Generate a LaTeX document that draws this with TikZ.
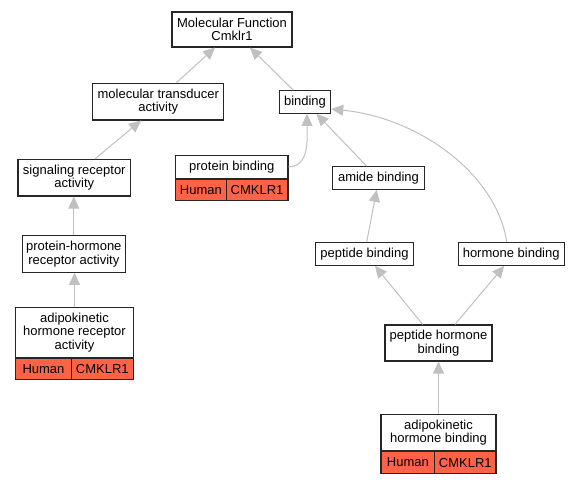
\documentclass[tikz,border=0pt]{standalone}
\usepackage{fontspec}
\setmainfont{Liberation Sans}
\usetikzlibrary{arrows.meta}
\definecolor{edgegray}{RGB}{192,192,192}
\definecolor{speciesred}{RGB}{255,99,71}
\tikzset{
  term/.style={draw=black!85,line width=1.1pt,fill=white,align=center,inner sep=0pt,
    font=\fontsize{13}{13.5}\selectfont},
  species/.style={draw=black!85,line width=1.1pt,fill=speciesred,inner sep=0pt,
    minimum height=21.5pt,font=\fontsize{13}{13.5}\selectfont},
  isa/.style={draw=edgegray,line width=1pt,-{Triangle[length=12pt,width=11pt]}}
}
\begin{document}
\begin{tikzpicture}[x=1pt,y=-1pt]
\useasboundingbox (0,0) rectangle (579,483);

\node[term,minimum width=120pt,minimum height=35pt] (mf) at (232,29.5) {Molecular Function\\Cmklr1};% Root
\node[term,minimum width=131pt,minimum height=36.5pt] (mtd) at (158.3,101.7) {molecular transducer\\activity};
\node[term,minimum width=51.4pt,minimum height=22.6pt] (bind) at (305,102) {binding};
\node[term,minimum width=112.7pt,minimum height=36.5pt] (sig) at (74.3,177.7) {signaling receptor\\activity};
\node[term,minimum width=103pt,minimum height=36.5pt] (phr) at (73.8,254) {protein-hormone\\receptor activity};
\node[term,minimum width=117.6pt,minimum height=49.6pt] (ahra) at (74.5,332.5) {adipokinetic\\hormone receptor\\activity};
\node[species,anchor=north west,minimum width=55.6pt] (ahraH) at (ahra.south west) {Human};
\node[species,anchor=north east,minimum width=62pt] (ahraG) at (ahra.south east) {CMKLR1};
\node[term,minimum width=112.3pt,minimum height=23pt] (pb) at (231.8,166.8) {protein binding};
\node[species,anchor=north west,minimum width=50.6pt] (pbH) at (pb.south west) {Human};
\node[species,anchor=north east,minimum width=61.7pt] (pbG) at (pb.south east) {CMKLR1};
\node[term,minimum width=91.6pt,minimum height=22.6pt] (amb) at (378.5,178) {amide binding};
\node[term,minimum width=97.6pt,minimum height=22.6pt] (pepb) at (364.5,254) {peptide binding};
\node[term,minimum width=105.7pt,minimum height=22.6pt] (hb) at (511.2,254) {hormone binding};
\node[term,minimum width=107pt,minimum height=36pt] (phb) at (438.5,343) {peptide hormone\\binding};
\node[term,minimum width=115pt,minimum height=36.4pt] (ahb) at (438.5,432.5) {adipokinetic\\hormone binding};
\node[species,anchor=north west,minimum width=53.7pt] (ahbH) at (ahb.south west) {Human};
\node[species,anchor=north east,minimum width=61.3pt] (ahbG) at (ahb.south east) {CMKLR1};

\draw[isa] ([xshift=18pt]mtd.north) -- ([xshift=-17pt]mf.south);
\draw[isa] ([xshift=-11.7pt]bind.north) -- ([xshift=18pt]mf.south);
\draw[isa] ([xshift=20.7pt]sig.north) -- ([xshift=-17.3pt]mtd.south);
\draw[isa] (phr.north) -- (phr.north |- sig.south);
\draw[isa] (ahra.north) -- (ahra.north |- phr.south);
\draw[isa] (pb.east) to[out=0,in=-90] ([xshift=2pt]bind.south);
\draw[isa] ([xshift=-11.8pt]amb.north) -- ([xshift=11.5pt]bind.south);
\draw[isa] ([xshift=-4.5pt]hb.north) .. controls (497,175) and (420,118) .. ([yshift=-7pt]bind.east);
\draw[isa] ([xshift=2.2pt]pepb.north) -- ([xshift=-1.8pt]amb.south);
\draw[isa] ([xshift=-15.8pt]phb.north) -- ([xshift=10.5pt]pepb.south);
\draw[isa] ([xshift=16.5pt]phb.north) -- ([xshift=-7pt]hb.south);
\draw[isa] (ahb.north) -- (phb.south);
\end{tikzpicture}
\end{document}
